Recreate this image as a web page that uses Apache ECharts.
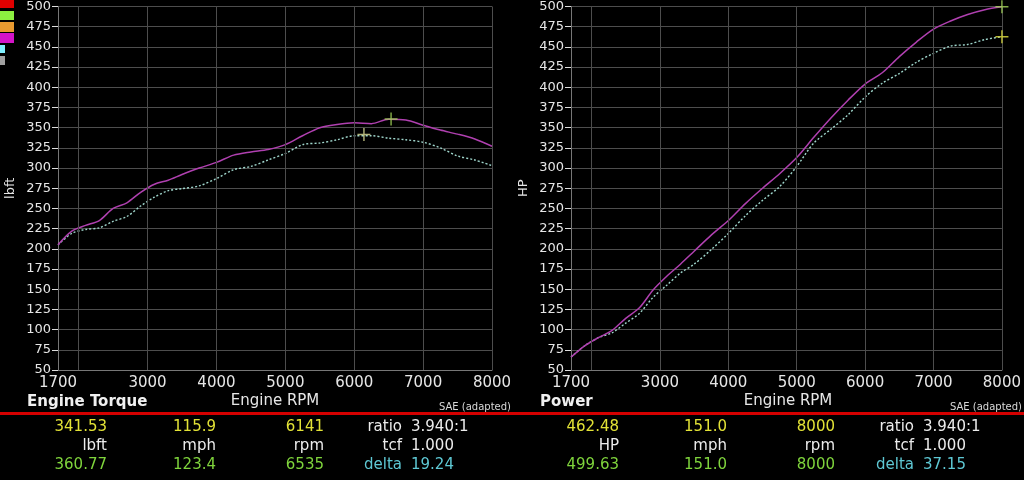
<!DOCTYPE html>
<html><head><meta charset="utf-8">
<script src="https://cdn.jsdelivr.net/npm/echarts@6/dist/echarts.min.js"></script>
<style>html,body{margin:0;padding:0;background:#000;}#c{width:1024px;height:480px;}</style>
</head><body><div id="c"></div>
<script>
// ---- data ----
const rpm = [1700,1900,2100,2300,2500,2700,2900,3100,3300,3500,3750,4000,4250,4500,4750,5000,5250,5500,5750,6000,6250,6500,6750,7000,7250,7500,7750,8000];
const torqueRun2 = [205,222,229,235,250,257,270,280,285,292,300,307,316,320,323,329,340,350,354,356,355,360.5,359.5,353,347,342,336,327];
const torqueRun1 = [205,219,224,226,234,240,253,264,272,274.5,278,287,298,302,310,318,329,331,335,340,340,337,335,332,325,315,310,303];
const powerRun2 = [66,80,90,99,114,127,149,166,181,197,217,235,256,275,293,313,338,362,384,404,418,438,456,472,482,490,496,499.6];
const powerRun1 = [66,80,90,96,108,120,140,155,170,181,199,219,241,260,277,302,331,348,366,388,405,417,431,442,451,453,459,462.5];
const xLabelValues = [1700,3000,4000,5000,6000,7000,8000];
const xGridValues = [2000,3000,4000,5000,6000,7000,8000];
const torqueCursorRun2 = [6535,360.77];
const torqueCursorRun1 = [6141,341.53];
const powerCursorRun2 = [8000,499.63];
const powerCursorRun1 = [8000,462.48];
const torqueStatsTop = ['341.53','115.9','6141'];
const torqueStatsUnits = ['lbft','mph','rpm'];
const torqueStatsBottom = ['360.77','123.4','6535'];
const torqueMeta = ['3.940:1','1.000','19.24'];
const powerStatsTop = ['462.48','151.0','8000'];
const powerStatsUnits = ['HP','mph','rpm'];
const powerStatsBottom = ['499.63','151.0','8000'];
const powerMeta = ['3.940:1','1.000','37.15'];
const metaLabels = ['ratio','tcf','delta'];
const legendColors = ['#e00000','#8cf040','#e89a30','#d414c8','#80f0ff','#a0a0a0'];

// ---- helpers ----
const FONT = '"DejaVu Sans", sans-serif';
const zip = (xs, ys) => xs.map((x, i) => [x, ys[i]]);
const plusPath = 'path://M4.45,0h1.1v10h-1.1z M0,4.45h10v1.1h-10z';
const GRIDC = '#4d4d4d';

function xAxisCfg(gi) {
  return {
    type: 'value', gridIndex: gi, min: 1700, max: 8000,
    axisLine: { show: true, lineStyle: { color: '#777', width: 1 } },
    axisTick: { show: true, customValues: xGridValues, length: 4, inside: true, lineStyle: { color: '#777' } },
    axisLabel: { customValues: xLabelValues, formatter: v => String(v), color: '#e6e6e6', fontFamily: FONT, fontSize: 15, margin: 6 },
    splitLine: { show: false }
  };
}
function yAxisCfg(gi, name) {
  return {
    type: 'value', gridIndex: gi, min: 50, max: 500, interval: 25,
    name: name, nameLocation: 'middle', nameGap: 41, nameRotate: 90,
    nameTextStyle: { color: '#e6e6e6', fontFamily: FONT, fontSize: 13 },
    axisLine: { show: true, lineStyle: { color: '#777', width: 1 } },
    axisTick: { show: true, length: 6, lineStyle: { color: '#ddd' } },
    axisLabel: { color: '#e6e6e6', fontFamily: FONT, fontSize: 13, margin: 7 },
    splitLine: { show: true, lineStyle: { color: GRIDC, width: 1 } }
  };
}
function gridLinesSeries(gi) {
  return {
    type: 'line', xAxisIndex: gi, yAxisIndex: gi, data: [], silent: true,
    markLine: {
      silent: true, symbol: ['none','none'], label: { show: false },
      lineStyle: { color: GRIDC, type: 'solid', width: 1 },
      data: xGridValues.map(v => ({ xAxis: v }))
    }
  };
}
function runSeries(gi, data, dotted) {
  return {
    type: 'line', xAxisIndex: gi, yAxisIndex: gi, data: data, smooth: 0.3,
    showSymbol: false, silent: true, z: dotted ? 3 : 4,
    lineStyle: dotted ? { color: '#9fd6cc', width: 1.4, type: [2, 2] } : { color: '#b040b0', width: 1.5 }
  };
}
function cursorSeries(gi, pt, color) {
  return {
    type: 'scatter', xAxisIndex: gi, yAxisIndex: gi, data: [pt], symbol: plusPath,
    symbolSize: [13, 13], itemStyle: { color: color }, z: 6, clip: false, silent: true
  };
}

// ---- graphic (legend chips, captions, stats) ----
const graphic = [];
const chipRects = [[0,0,14,8],[0,11,14,9],[0,22,14,10],[0,33,14,10],[0,45,5,8],[0,56,5,9]];
chipRects.forEach((r, i) => graphic.push({ type: 'rect', shape: { x: r[0], y: r[1], width: r[2], height: r[3] }, style: { fill: legendColors[i] }, silent: true }));
graphic.push({ type: 'rect', shape: { x: 0, y: 412, width: 1024, height: 3 }, style: { fill: '#d40000' }, silent: true });

function txt(x, y, text, color, align, font) {
  graphic.push({ type: 'text', x: x, y: y, silent: true,
    style: { text: text, fill: color, font: font || ('15px ' + FONT), textAlign: align, textVerticalAlign: 'middle', align: align, verticalAlign: 'middle' } });
}
// captions
txt(27, 402, 'Engine Torque', '#f0f0f0', 'left', 'bold 15px ' + FONT);
txt(275, 401, 'Engine RPM', '#e6e6e6', 'center', '15px ' + FONT);
txt(511, 407, 'SAE (adapted)', '#d8d8d8', 'right', '10px ' + FONT);
txt(540, 402, 'Power', '#f0f0f0', 'left', 'bold 15px ' + FONT);
txt(788, 401, 'Engine RPM', '#e6e6e6', 'center', '15px ' + FONT);
txt(1022, 407, 'SAE (adapted)', '#d8d8d8', 'right', '10px ' + FONT);

const YEL = '#e2e236', GRN = '#7fd43c', WHT = '#ececec', CYN = '#5ec8d4';
const rowsY = [427, 446, 465];
function statsBlock(cols, metaX, top, units, bottom, meta) {
  cols.forEach((cx, i) => {
    txt(cx, rowsY[0], top[i], YEL, 'right');
    txt(cx, rowsY[1], units[i], WHT, 'right');
    txt(cx, rowsY[2], bottom[i], GRN, 'right');
  });
  metaLabels.forEach((m, i) => {
    const c = i === 2 ? CYN : WHT;
    txt(metaX, rowsY[i], m, c, 'right');
    txt(metaX + 9, rowsY[i], meta[i], c, 'left');
  });
}
statsBlock([107, 216, 324], 402, torqueStatsTop, torqueStatsUnits, torqueStatsBottom, torqueMeta);
statsBlock([619, 727, 835], 914, powerStatsTop, powerStatsUnits, powerStatsBottom, powerMeta);

const option = {
  backgroundColor: '#000',
  animation: false,
  grid: [
    { left: 58, right: 532, top: 5, bottom: 110, containLabel: false },
    { left: 571, right: 19, top: 5, bottom: 110, containLabel: false }
  ],
  xAxis: [xAxisCfg(0), xAxisCfg(1)],
  yAxis: [yAxisCfg(0, 'lbft'), yAxisCfg(1, 'HP')],
  series: [
    gridLinesSeries(0), gridLinesSeries(1),
    runSeries(0, zip(rpm, torqueRun1), true),
    runSeries(0, zip(rpm, torqueRun2), false),
    runSeries(1, zip(rpm, powerRun1), true),
    runSeries(1, zip(rpm, powerRun2), false),
    cursorSeries(0, torqueCursorRun2, '#a6d85a'),
    cursorSeries(0, torqueCursorRun1, '#dede96'),
    cursorSeries(1, powerCursorRun2, '#a6d85a'),
    cursorSeries(1, powerCursorRun1, '#e6e640')
  ],
  graphic: graphic
};
const chart = echarts.init(document.getElementById('c'), null, { renderer: 'canvas' });
chart.setOption(option);
</script></body></html>
